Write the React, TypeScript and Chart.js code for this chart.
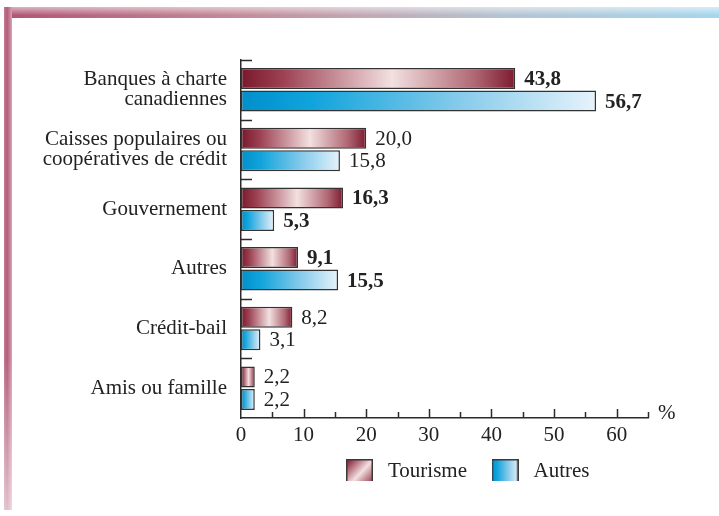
import React, { useEffect, useRef } from 'react';
import { Chart, registerables } from 'chart.js';

Chart.register(...registerables);

// ---- data ----
const categories: (string | string[])[] = [
  ['Banques à charte', 'canadiennes'],
  ['Caisses populaires ou', 'coopératives de crédit'],
  'Gouvernement',
  'Autres',
  'Crédit-bail',
  'Amis ou famille',
];
const seriesNames = ['Tourisme', 'Autres'];
const tourismeValues = [43.8, 20.0, 16.3, 9.1, 8.2, 2.2];
const autresValues = [56.7, 15.8, 5.3, 15.5, 3.1, 2.2];
const tourismeBold = [true, false, true, true, false, false];
const autresBold = [true, false, true, true, false, false];
const xTickLabels = [0, 10, 20, 30, 40, 50, 60];
const axisUnit = '%';

const FONT = '"Liberation Serif", "Times New Roman", serif';
const TEXT = '#222';
const LINE = '#2b2b2b';
const FS = 21;

const tourismeStops: [number, string][] = [
  [0, '#7a182c'], [0.15, '#9c4052'], [0.55, '#f3e0e0'], [0.85, '#b06874'], [1, '#7c1a2e'],
];
const autresStops: [number, string][] = [
  [0, '#008fcb'], [0.2, '#10a4dc'], [0.6, '#82c9ea'], [1, '#e6f3fb'],
];

function barGradient(stops: [number, string][]) {
  return (ctx: any) => {
    const chart = ctx.chart;
    const xs = chart.scales && chart.scales.x;
    if (!xs || ctx.type !== 'data' || !chart.chartArea) return stops[0][1];
    const x0 = xs.getPixelForValue(0);
    const x1 = xs.getPixelForValue(ctx.raw as number);
    if (!isFinite(x0) || !isFinite(x1) || x1 - x0 < 1) return stops[0][1];
    const g = chart.ctx.createLinearGradient(x0, 0, x1, 0);
    stops.forEach(([o, c]) => g.addColorStop(o, c));
    return g;
  };
}

function legendImage(stops: [number, string][], diagonal: boolean) {
  const w = 27, h = 25;
  const c = document.createElement('canvas');
  c.width = w; c.height = h;
  const g2 = c.getContext('2d')!;
  const g = diagonal ? g2.createLinearGradient(0, 0, w, h) : g2.createLinearGradient(0, 0, w, 0);
  stops.forEach(([o, col]) => g.addColorStop(o, col));
  g2.fillStyle = g;
  g2.fillRect(0, 0, w, h);
  g2.strokeStyle = '#3a3a3a';
  g2.lineWidth = 1.5;
  g2.strokeRect(0.75, 0.75, w - 1.5, h - 1.5);
  return c;
}

const fmt = (v: number) => v.toFixed(1).replace('.', ',');

const LEGEND_PAD = 20;

const decorPlugin = {
  id: 'decor',
  afterLayout(chart: any) {
    const l = chart.legend;
    if (!l || !l.lineWidths) return;
    const w = l.right - l.left;
    const h = l.bottom - l.top;
    const targetX = 341.5;
    const sum = targetX * 2 + l.lineWidths[0] - LEGEND_PAD;
    l.left = (sum - w) / 2;
    l.right = l.left + w;
    l.top = 471.5 - LEGEND_PAD - FS / 2;
    l.bottom = l.top + h;
  },
  afterDatasetsDraw(chart: any) {
    const ctx = chart.ctx;
    const xs = chart.scales.x;
    const ys = chart.scales.y;
    const area = chart.chartArea;
    ctx.save();
    // value labels
    const bolds = [tourismeBold, autresBold];
    chart.data.datasets.forEach((ds: any, di: number) => {
      const meta = chart.getDatasetMeta(di);
      meta.data.forEach((el: any, i: number) => {
        ctx.font = `${bolds[di][i] ? 'bold ' : ''}${FS}px ${FONT}`;
        ctx.fillStyle = TEXT;
        ctx.textAlign = 'left';
        ctx.textBaseline = 'middle';
        ctx.fillText(fmt(ds.data[i]), el.x + 9, el.y + 1);
      });
    });
    // x tick marks (upward)
    ctx.strokeStyle = LINE;
    ctx.lineWidth = 1.5;
    xs.ticks.forEach((t: any) => {
      if (t.value === 0) return;
      const px = Math.round(xs.getPixelForValue(t.value)) + 0.5;
      const len = t.value % 10 === 0 ? 9 : 6;
      ctx.beginPath();
      ctx.moveTo(px, area.bottom);
      ctx.lineTo(px, area.bottom - len);
      ctx.stroke();
    });
    // y boundary ticks (to the right)
    const n = categories.length;
    for (let i = 0; i < n; i++) {
      const py = Math.round(ys.getPixelForValue(i - 0.5)) + 0.5;
      ctx.beginPath();
      ctx.moveTo(area.left, py);
      ctx.lineTo(area.left + 11, py);
      ctx.stroke();
    }
    // unit
    ctx.font = `${FS}px ${FONT}`;
    ctx.fillStyle = TEXT;
    ctx.textAlign = 'left';
    ctx.textBaseline = 'middle';
    ctx.fillText(axisUnit, area.right + 10, area.bottom - 5);
    ctx.restore();
  },
};

export default function App() {
  const ref = useRef<HTMLCanvasElement>(null);
  useEffect(() => {
    document.body.style.margin = '0';
    const canvas = ref.current!;
    const imgs = [legendImage(tourismeStops, true), legendImage(autresStops, false)];
    const chart = new Chart(canvas, {
      type: 'bar',
      data: {
        labels: categories as any,
        datasets: [
          {
            label: seriesNames[0],
            data: tourismeValues,
            backgroundColor: barGradient(tourismeStops) as any,
            borderColor: '#333',
            borderWidth: 1.5,
            borderSkipped: false,
            categoryPercentage: 0.755,
            barPercentage: 0.93,
          },
          {
            label: seriesNames[1],
            data: autresValues,
            backgroundColor: barGradient(autresStops) as any,
            borderColor: '#333',
            borderWidth: 1.5,
            borderSkipped: false,
            categoryPercentage: 0.755,
            barPercentage: 0.93,
          },
        ],
      },
      options: {
        indexAxis: 'y',
        responsive: false,
        animation: false,
        devicePixelRatio: 1,
        layout: { padding: { top: 60, right: 71, bottom: 0, left: 0 } },
        scales: {
          x: {
            min: 0,
            max: 65,
            grid: { display: false, drawTicks: false },
            border: { display: true, color: LINE, width: 1.5 },
            ticks: {
              stepSize: 5,
              autoSkip: false,
              maxRotation: 0,
              padding: 5,
              color: TEXT,
              font: { family: FONT, size: FS },
              callback: (v: any) => (xTickLabels.includes(Number(v)) ? String(v) : ''),
            },
            afterFit: (s: any) => { s.height = 58; },
          },
          y: {
            grid: { display: false, drawTicks: false },
            border: { display: true, color: LINE, width: 1.5 },
            ticks: {
              padding: 14,
              color: TEXT,
              font: { family: FONT, size: FS, lineHeight: 0.95 },
            },
            afterFit: (s: any) => { s.width = 241; },
          },
        },
        plugins: {
          tooltip: { enabled: false },
          legend: {
            position: 'bottom',
            maxHeight: 40,
            labels: {
              usePointStyle: true,
              pointStyleWidth: 36,
              padding: LEGEND_PAD,
              color: TEXT,
              font: { family: FONT, size: FS },
              generateLabels: () =>
                seriesNames.map((name, i) => ({
                  text: name,
                  pointStyle: imgs[i] as any,
                  fillStyle: 'transparent',
                  strokeStyle: 'transparent',
                  lineWidth: 0,
                  hidden: false,
                  datasetIndex: i,
                  fontColor: TEXT,
                })),
            },
          },
        },
      },
      plugins: [decorPlugin],
    });
    return () => chart.destroy();
  }, []);

  return (
    <div style={{ position: 'relative', width: 719, height: 516, background: '#fff', overflow: 'hidden' }}>
      <div
        style={{
          position: 'absolute', left: 4, top: 7, width: 715, height: 11,
          background:
            'linear-gradient(to bottom, rgba(255,255,255,0.55), rgba(255,255,255,0) 75%), linear-gradient(to right, #b05474, #c28696 30%, #c2a8b4 50%, #b4c4d2 70%, #a6d6ee 100%)',
        }}
      />
      <div
        style={{
          position: 'absolute', left: 4, top: 7, width: 8, height: 503,
          background:
            'linear-gradient(to bottom, rgba(255,255,255,0) 70%, rgba(255,255,255,0.6) 100%), linear-gradient(to right, #c27a92, #b45c7a 40%, #d8a2b4 100%)',
        }}
      />
      <div style={{ position: 'absolute', left: 12, top: 18, width: 707, height: 498, background: '#fff' }} />
      <canvas ref={ref} width={719} height={516} style={{ position: 'absolute', left: 0, top: 0 }} />
    </div>
  );
}
